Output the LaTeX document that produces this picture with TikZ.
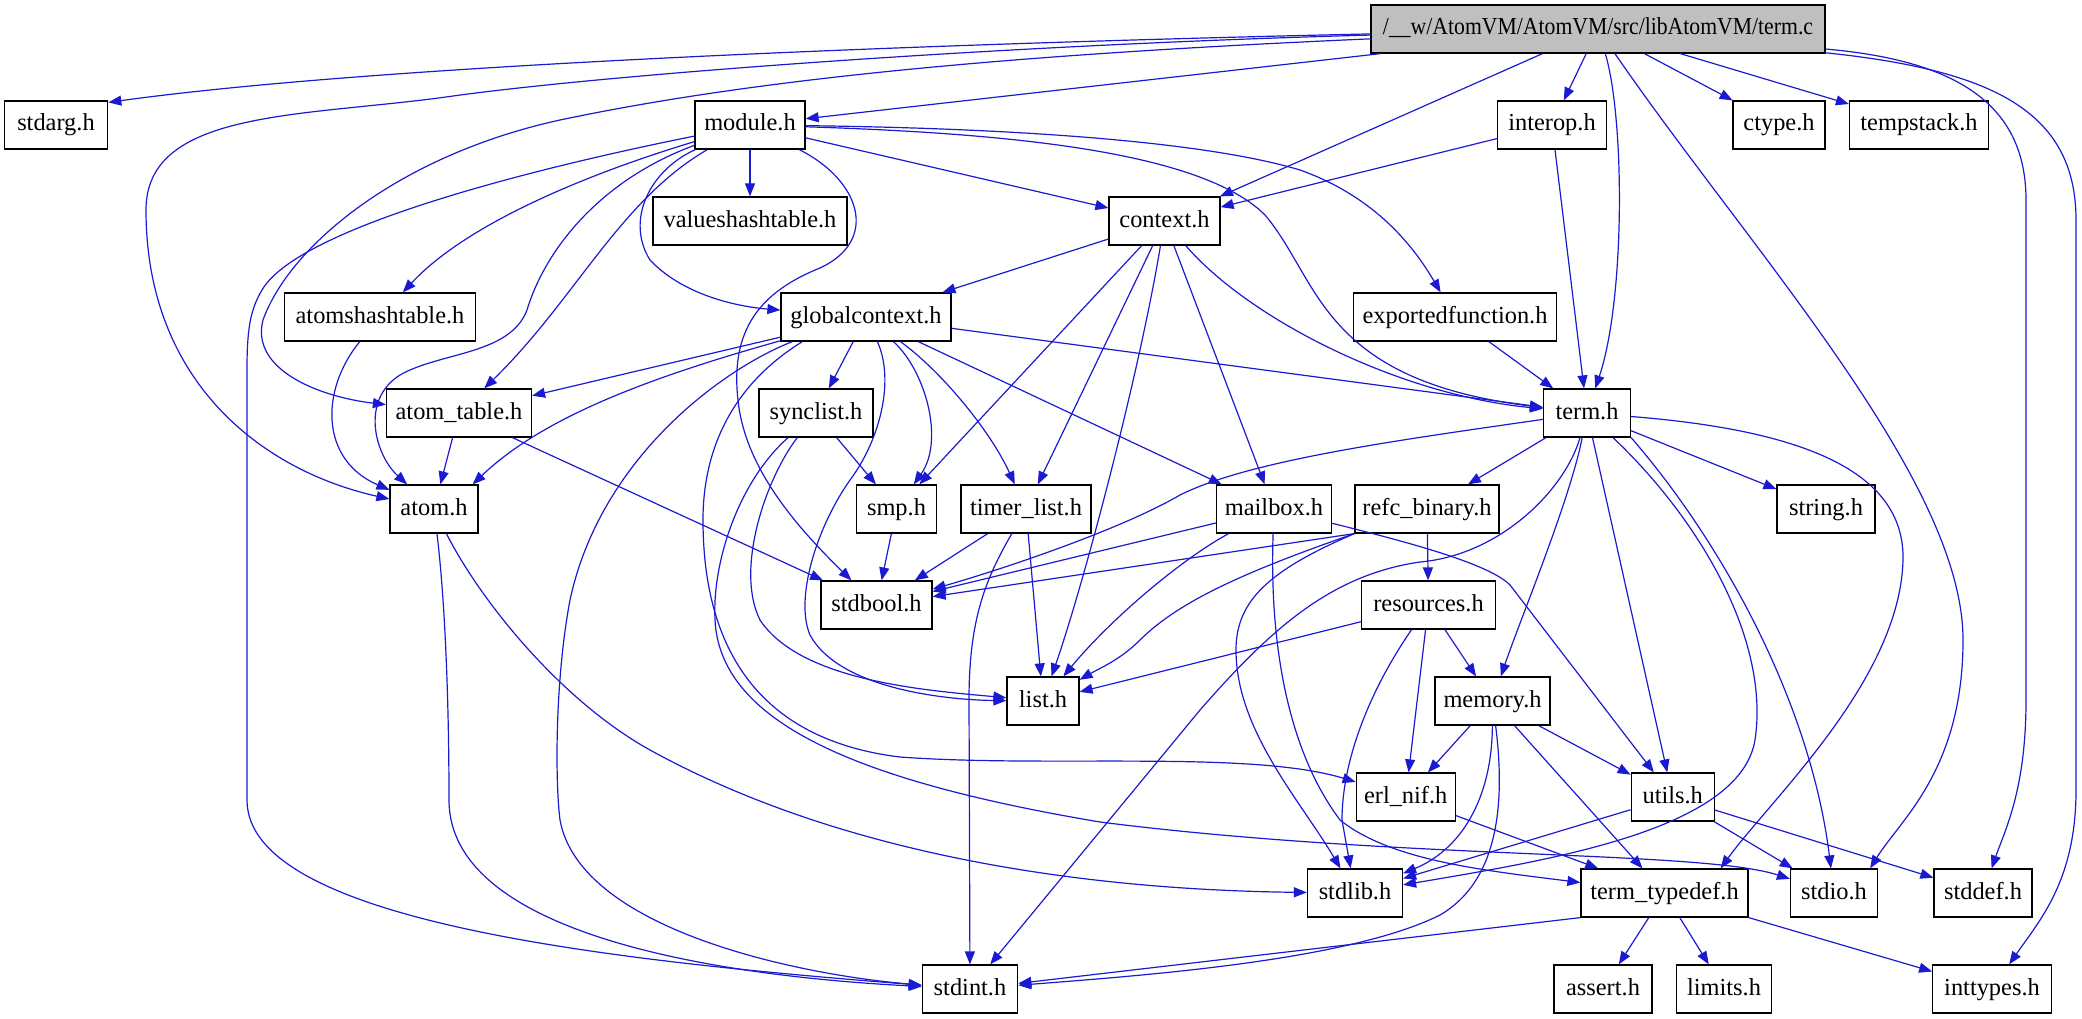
\documentclass[tikz,border=0pt]{standalone}
\usepackage{fontspec}
\setmainfont{Liberation Serif}
\usepackage{graphicx}
\usetikzlibrary{arrows.meta}
\definecolor{edgeblue}{RGB}{26,26,208}
\definecolor{termgray}{RGB}{191,191,191}
\begin{document}
\begin{tikzpicture}[x=1pt,y=-1pt,
  hdr/.style={draw=black, line width=1.2pt, rectangle, minimum height=48pt, inner sep=0pt,
    text height=17pt, text depth=5pt, font=\fontsize{24.4pt}{29pt}\selectfont, fill=white},
  dep/.style={draw=edgeblue, line width=1.2pt, -{Triangle[length=13pt,width=10pt]}}]
\useasboundingbox (0,0) rectangle (2082,1019);

% nodes
\node[hdr, fill=termgray, minimum width=454pt] (termc) at (1598,29) {\scalebox{0.89}[1]{/\_\_w/AtomVM/AtomVM/src/libAtomVM/term.c}};
\node[hdr, minimum width=103.5pt] (stdarg) at (56,125) {stdarg.h};
\node[hdr, minimum width=110pt] (module) at (750,125) {module.h};
\node[hdr, minimum width=109pt] (interop) at (1552,125) {interop.h};
\node[hdr, minimum width=92pt] (ctype) at (1779,125) {ctype.h};
\node[hdr, minimum width=139pt] (tempstack) at (1919,125) {tempstack.h};
\node[hdr, minimum width=194pt] (valueshashtable) at (750,221) {valueshashtable.h};
\node[hdr, minimum width=111pt] (context) at (1164.5,221) {context.h};
\node[hdr, minimum width=191pt] (atomshashtable) at (380,317) {atomshashtable.h};
\node[hdr, minimum width=170pt] (globalcontext) at (866,317) {globalcontext.h};
\node[hdr, minimum width=203pt] (exportedfunction) at (1455,317) {exportedfunction.h};
\node[hdr, minimum width=145pt] (atomtable) at (459,413) {atom\_table.h};
\node[hdr, minimum width=114pt] (synclist) at (816,413) {synclist.h};
\node[hdr, minimum width=87pt] (termh) at (1587,413) {term.h};
\node[hdr, minimum width=88pt] (atom) at (434,509) {atom.h};
\node[hdr, minimum width=80pt] (smp) at (896.5,509) {smp.h};
\node[hdr, minimum width=130pt] (timerlist) at (1026,509) {timer\_list.h};
\node[hdr, minimum width=115pt] (mailbox) at (1274,509) {mailbox.h};
\node[hdr, minimum width=144pt] (refc) at (1427,509) {refc\_binary.h};
\node[hdr, minimum width=98pt] (stringh) at (1826,509) {string.h};
\node[hdr, minimum width=111pt] (stdbool) at (876.5,605) {stdbool.h};
\node[hdr, minimum width=134pt] (resources) at (1428.5,605) {resources.h};
\node[hdr, minimum width=72pt] (listh) at (1043,701) {list.h};
\node[hdr, minimum width=115pt] (memory) at (1492.5,701) {memory.h};
\node[hdr, minimum width=99pt] (erlnif) at (1405.7,797) {erl\_nif.h};
\node[hdr, minimum width=83pt] (utils) at (1672.7,797) {utils.h};
\node[hdr, minimum width=95pt] (stdlib) at (1355,893) {stdlib.h};
\node[hdr, minimum width=167pt] (termtypedef) at (1664.5,893) {term\_typedef.h};
\node[hdr, minimum width=87pt] (stdio) at (1834,893) {stdio.h};
\node[hdr, minimum width=98pt] (stddef) at (1983,893) {stddef.h};
\node[hdr, minimum width=95.5pt] (stdint) at (970,989) {stdint.h};
\node[hdr, minimum width=98pt] (assert) at (1603,989) {assert.h};
\node[hdr, minimum width=95pt] (limits) at (1724,989) {limits.h};
\node[hdr, minimum width=118.5pt] (inttypes) at (1992,989) {inttypes.h};

% term.c
\draw[dep] (termc) .. controls (1000,42) and (400,62) .. ([yshift=-2pt]stdarg.north east);
\draw[dep] (termc) -- (module);
\draw[dep] (termc) .. controls (1000,55) and (750,80) .. (560,120) .. controls (400,155) and (290,245) .. (263,320) .. controls (250,370) and (320,397) .. (atomtable);
\draw[dep] (termc) .. controls (1000,45) and (600,75) .. (446,97) .. controls (300,117) and (146,110) .. (146,210) .. controls (146,380) and (260,470) .. (atom);
\draw[dep] (termc) -- (context);
\draw[dep] (termc) -- (interop);
\draw[dep] (termc) .. controls (1625,120) and (1625,300) .. (termh);
\draw[dep] (termc) -- (ctype);
\draw[dep] (termc) -- (tempstack);
\draw[dep] (termc) .. controls (1750,250) and (1963,480) .. (1963,640) .. controls (1963,770) and (1900,820) .. ([xshift=-8pt]stdio.north east);
\draw[dep] (termc) .. controls (1950,60) and (2026,100) .. (2026,200) -- (2026,700) .. controls (2026,790) and (2005,830) .. (stddef);
\draw[dep] (termc) .. controls (1990,70) and (2076,110) .. (2076,220) -- (2076,790) .. controls (2076,880) and (2040,920) .. (inttypes);

% module.h
\draw[dep] (module) -- (valueshashtable);
\draw[dep] (module) -- (context);
\draw[dep] (module) .. controls (650,170) and (625,220) .. (650,260) .. controls (680,292) and (730,306) .. (globalcontext);
\draw[dep] (module) .. controls (600,170) and (470,220) .. (atomshashtable);
\draw[dep] (module) .. controls (620,200) and (575,300) .. (atomtable);
\draw[dep] (module) .. controls (600,180) and (545,250) .. (527,310) .. controls (510,355) and (440,352) .. (400,375) .. controls (360,400) and (375,455) .. (atom);
\draw[dep] (module) .. controls (550,165) and (300,225) .. (262,290) .. controls (250,310) and (247,330) .. (247,370) -- (247,800) .. controls (247,920) and (600,960) .. (stdint);
\draw[dep] (module) .. controls (860,180) and (880,240) .. (820,268) .. controls (760,292) and (730,330) .. (738,400) .. controls (745,470) and (800,530) .. (stdbool);
\draw[dep] (module) .. controls (1000,133) and (1200,150) .. (1265,215) .. controls (1320,280) and (1320,380) .. (termh);
\draw[dep] (module) .. controls (1000,128) and (1200,140) .. (1300,170) .. controls (1370,195) and (1410,240) .. (exportedfunction);

% interop.h
\draw[dep] (interop) -- (context);
\draw[dep] (interop) -- (termh);

% context.h
\draw[dep] (context) -- (globalcontext);
\draw[dep] (context) -- (smp);
\draw[dep] (context) -- (timerlist);
\draw[dep] (context) .. controls (1140,370) and (1085,580) .. (listh);
\draw[dep] (context) -- (mailbox);
\draw[dep] (context) .. controls (1250,320) and (1400,395) .. (termh);

% globalcontext.h
\draw[dep] (globalcontext) -- (atomtable);
\draw[dep] (globalcontext) .. controls (640,380) and (540,420) .. ([xshift=-6pt]atom.north east);
\draw[dep] (globalcontext) -- (synclist);
\draw[dep] (globalcontext) .. controls (925,370) and (945,440) .. (smp);
\draw[dep] (globalcontext) .. controls (940,370) and (990,430) .. (timerlist);
\draw[dep] (globalcontext) -- (mailbox);
\draw[dep] (globalcontext) -- (termh);
\draw[dep] ([xshift=12pt]globalcontext.south west) .. controls (720,370) and (600,460) .. (570,600) .. controls (555,680) and (555,780) .. (560,820) .. controls (580,930) and (800,975) .. (stdint);
\draw[dep] ([xshift=22pt]globalcontext.south west) .. controls (740,380) and (703,440) .. (703,520) .. controls (703,650) and (760,740) .. (900,757) .. controls (1050,768) and (1250,750) .. (erlnif);
\draw[dep] (globalcontext) .. controls (895,380) and (880,440) .. (850,480) .. controls (815,530) and (795,600) .. (810,635) .. controls (840,690) and (950,700) .. (listh);

% synclist.h
\draw[dep] (synclist) -- (smp);
\draw[dep] (synclist) .. controls (765,480) and (735,570) .. (760,620) .. controls (800,680) and (920,690) .. (listh);
\draw[dep] (synclist) .. controls (740,480) and (712,560) .. (715,620) .. controls (720,720) and (850,780) .. (1100,822) .. controls (1400,860) and (1700,850) .. (stdio);

% atom_table.h, atomshashtable.h
\draw[dep] (atomtable) -- (atom);
\draw[dep] (atomtable) -- (stdbool);
\draw[dep] (atomshashtable) .. controls (320,390) and (320,460) .. (atom);

% atom.h
\draw[dep] (atom) .. controls (445,600) and (449,700) .. (449,800) .. controls (449,930) and (700,975) .. (stdint);
\draw[dep] (atom) .. controls (480,600) and (560,700) .. (650,750) .. controls (850,860) and (1100,890) .. (stdlib);

% smp.h, timer_list.h
\draw[dep] (smp) -- (stdbool);
\draw[dep] (timerlist) -- (stdbool);
\draw[dep] (timerlist) -- (listh);
\draw[dep] (timerlist) .. controls (985,580) and (969,620) .. (969,700) -- (stdint);

% mailbox.h
\draw[dep] (mailbox) -- (stdbool);
\draw[dep] (mailbox) .. controls (1180,560) and (1110,620) .. (listh);
\draw[dep] (mailbox) .. controls (1270,620) and (1280,740) .. (1340,820) .. controls (1390,860) and (1480,870) .. (termtypedef);
\draw[dep] (mailbox) .. controls (1420,545) and (1490,565) .. (1510,585) -- (utils);

% refc_binary.h
\draw[dep] (refc) -- (resources);
\draw[dep] (refc.south west) -- (stdbool);
\draw[dep] (refc.south west) .. controls (1250,570) and (1180,600) .. (1140,640) .. controls (1120,660) and (1100,668) .. (listh);
\draw[dep] (refc.south west) .. controls (1270,570) and (1236,600) .. (1236,650) .. controls (1236,730) and (1300,800) .. (stdlib);

% resources.h
\draw[dep] (resources) -- (listh);
\draw[dep] (resources) -- (memory);
\draw[dep] (resources) -- (erlnif);
\draw[dep] (resources) .. controls (1370,690) and (1342,760) .. (1342,820) -- (stdlib);

% memory.h
\draw[dep] (memory) -- (erlnif);
\draw[dep] (memory) .. controls (1492,800) and (1460,850) .. (stdlib);
\draw[dep] (memory) .. controls (1505,800) and (1500,880) .. (1440,915) .. controls (1350,960) and (1150,975) .. (stdint);
\draw[dep] (memory) -- (termtypedef);
\draw[dep] (memory) -- (utils);

% erl_nif.h, utils.h
\draw[dep] (erlnif) -- (termtypedef);
\draw[dep] (utils) -- (stdlib);
\draw[dep] (utils) -- (stdio);
\draw[dep] (utils) -- (stddef);

% term.h
\draw[dep] (termh) -- (refc);
\draw[dep] (termh) -- (stringh);
\draw[dep] (termh) .. controls (1570,500) and (1520,620) .. (memory);
\draw[dep] (termh) -- (utils);
\draw[dep] (termh.south east) .. controls (1720,540) and (1810,700) .. (stdio);
\draw[dep] (termh) .. controls (1700,520) and (1770,640) .. (1755,740) .. controls (1740,830) and (1550,860) .. (stdlib);
\draw[dep] (termh) .. controls (1800,430) and (1905,470) .. (1903,560) .. controls (1900,680) and (1770,800) .. ([xshift=-28pt]termtypedef.north east);
\draw[dep] (termh) .. controls (1565,490) and (1500,555) .. (1420,562) .. controls (1330,575) and (1270,630) .. (1200,710) -- (stdint);
\draw[dep] (termh) .. controls (1400,440) and (1250,460) .. (1180,495) .. controls (1120,530) and (1000,570) .. (stdbool);

% term_typedef.h
\draw[dep] (termtypedef.south west) -- (stdint);
\draw[dep] (termtypedef) -- (assert);
\draw[dep] (termtypedef) -- (limits);
\draw[dep] (termtypedef) -- (inttypes);

% exportedfunction.h
\draw[dep] (exportedfunction) -- (termh);
\end{tikzpicture}
\end{document}
